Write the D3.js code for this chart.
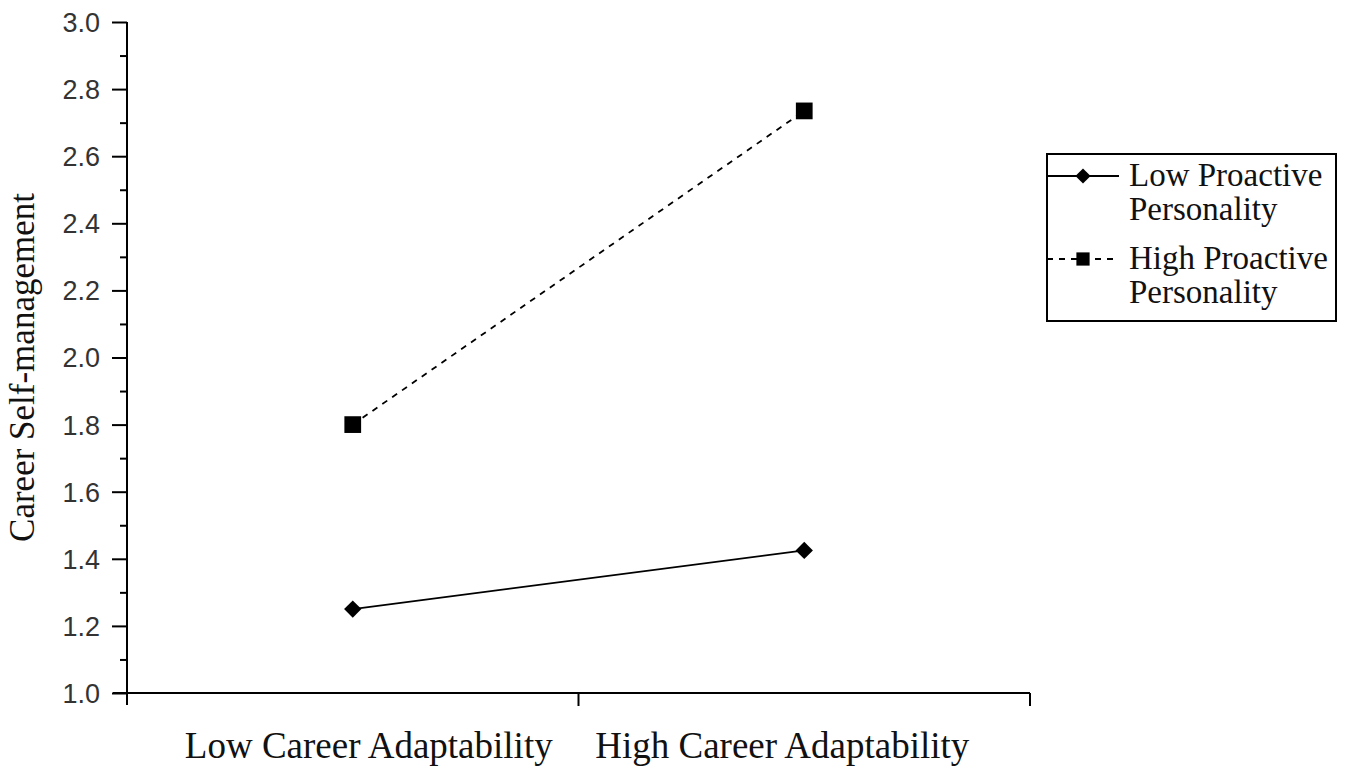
<!DOCTYPE html>
<html><head><meta charset="utf-8">
<script src="https://cdn.jsdelivr.net/npm/d3@7"></script>
<style>body{margin:0;background:#fff}svg{display:block}</style>
</head><body>
<svg id="c" width="1350" height="776"></svg>
<script>
const categories = ["Low Career Adaptability", "High Career Adaptability"];
const seriesNames = ["Low Proactive Personality", "High Proactive Personality"];
const lowProactive = [1.25, 1.425];
const highProactive = [1.80, 2.735];
const yTicks = [1.0, 1.2, 1.4, 1.6, 1.8, 2.0, 2.2, 2.4, 2.6, 2.8, 3.0];
const yMinorTicks = [1.1, 1.3, 1.5, 1.7, 1.9, 2.1, 2.3, 2.5, 2.7, 2.9];
const yTitle = "Career Self-management";
const labelShift = [16, -22];

const svg = d3.select("#c");
const L = 127, R = 1030, T = 22, B = 693;
const x = d3.scaleBand().domain(categories).range([L, R]);
const y = d3.scaleLinear().domain([1.0, 3.0]).range([B, T]);
const serif = "'Liberation Serif', 'Times New Roman', serif";

// y axis
const ya = svg.append("g").attr("transform", `translate(${L},0)`)
  .call(d3.axisLeft(y).tickValues(yTicks).tickFormat(d3.format(".1f")).tickSize(15).tickPadding(12));
ya.select(".domain").attr("stroke-width", 2).attr("d", `M-0,${B+12}V${T}`);
ya.selectAll(".tick line").attr("stroke-width", 2);
ya.selectAll(".tick text").attr("font-family", "'Liberation Sans', sans-serif")
  .attr("font-size", 27).attr("fill", "#333").attr("dy", "0.35em");
svg.append("g").attr("transform", `translate(${L},0)`)
  .call(d3.axisLeft(y).tickValues(yMinorTicks).tickFormat("").tickSize(7))
  .call(g => g.select(".domain").remove())
  .selectAll("line").attr("stroke-width", 2);

// x axis
const boundaries = [categories[1]].map(c => x(c)).concat([R]);
const xa = svg.append("g").attr("transform", `translate(0,${B})`);
xa.append("line").attr("x1", L - 14).attr("x2", R).attr("stroke", "#000").attr("stroke-width", 2);
xa.selectAll("line.t").data(boundaries).join("line").attr("class", "t")
  .attr("x1", d => d).attr("x2", d => d).attr("y1", 0).attr("y2", 13)
  .attr("stroke", "#000").attr("stroke-width", 2);
xa.selectAll("text").data(categories).join("text")
  .attr("x", (d, i) => x(d) + x.bandwidth() / 2 + labelShift[i]).attr("y", 65)
  .attr("text-anchor", "middle").attr("font-family", serif).attr("font-size", 37).attr("fill", "#111")
  .text(d => d);

// y title
svg.append("text").attr("transform", `translate(34,${(T + B) / 2 + 10}) rotate(-90)`)
  .attr("text-anchor", "middle").attr("font-family", serif).attr("font-size", 35).attr("fill", "#111")
  .text(yTitle);

const cx = d => x(d) + x.bandwidth() / 2;
const line = d3.line().x(d => cx(d.c)).y(d => y(d.v));
const lowData = categories.map((c, i) => ({ c, v: lowProactive[i] }));
const highData = categories.map((c, i) => ({ c, v: highProactive[i] }));

svg.append("path").datum(lowData).attr("d", line).attr("fill", "none").attr("stroke", "#000").attr("stroke-width", 1.8);
svg.append("path").datum(highData).attr("d", line).attr("fill", "none").attr("stroke", "#000").attr("stroke-width", 1.8).attr("stroke-dasharray", "6,6");

const square = d3.symbol().type(d3.symbolSquare).size(280);
svg.selectAll("path.dm").data(lowData).join("path").attr("class", "dm")
  .attr("d", d3.symbol().type(d3.symbolSquare).size(150)).attr("transform", d => `translate(${cx(d.c)},${y(d.v)}) rotate(45)`);
svg.selectAll("path.sq").data(highData).join("path").attr("class", "sq")
  .attr("transform", d => `translate(${cx(d.c)},${y(d.v)})`).attr("d", square);

// legend
const lg = svg.append("g");
lg.append("rect").attr("x", 1047).attr("y", 154).attr("width", 289).attr("height", 167)
  .attr("fill", "#fff").attr("stroke", "#000").attr("stroke-width", 2);
const rows = [{ y: 176, dash: null, sym: "d", l1: "Low Proactive", l2: "Personality" },
              { y: 259, dash: "6,6", sym: "s", l1: "High Proactive", l2: "Personality" }];
rows.forEach(r => {
  lg.append("line").attr("x1", 1047).attr("x2", 1119).attr("y1", r.y).attr("y2", r.y)
    .attr("stroke", "#000").attr("stroke-width", 1.8).attr("stroke-dasharray", r.dash);
  if (r.sym === "d") lg.append("path").attr("d", d3.symbol().type(d3.symbolSquare).size(115)()).attr("transform", `translate(1083,${r.y}) rotate(45)`);
  else lg.append("path").attr("d", d3.symbol().type(d3.symbolSquare).size(175)()).attr("transform", `translate(1083,${r.y})`);
  lg.append("text").attr("x", 1129).attr("y", r.y + 10).attr("font-family", serif).attr("font-size", 33).attr("fill", "#111").text(r.l1);
  lg.append("text").attr("x", 1129).attr("y", r.y + 44).attr("font-family", serif).attr("font-size", 33).attr("fill", "#111").text(r.l2);
});
</script>
</body></html>
